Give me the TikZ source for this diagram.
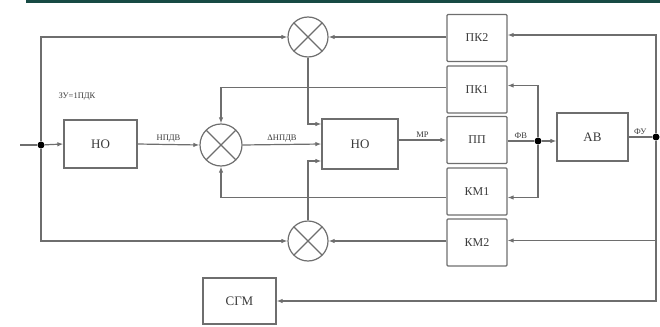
\documentclass[tikz,border=0pt]{standalone}
\usepackage{fontspec}
\setmainfont{Liberation Serif}
\usetikzlibrary{arrows.meta, positioning, calc}
\definecolor{linegray}{HTML}{6E6E6E}
\definecolor{textgray}{HTML}{3A3A3A}
\definecolor{barteal}{HTML}{174A44}

\begin{document}
\begin{tikzpicture}[x=1pt, y=-1pt, line width=1.2pt, draw=linegray,
    every node/.style={text=textgray},
    block/.style={draw=linegray, rectangle, minimum width=73pt, minimum height=48pt, font=\fontsize{13}{14}\selectfont},
    stackbox/.style={draw=linegray, rectangle, rounded corners=1pt, minimum width=60pt, minimum height=47pt, font=\fontsize{12}{13}\selectfont},
    summer/.style={draw=linegray, circle, minimum size=40pt, inner sep=0pt,
        path picture={\draw[linegray, line width=1.2pt] (path picture bounding box.north west) -- (path picture bounding box.south east)
            (path picture bounding box.north east) -- (path picture bounding box.south west);}},
    sig/.style={font=\fontsize{8.5}{9}\selectfont, inner sep=1.5pt},
    dot/.style={circle, fill=black, inner sep=0pt, minimum size=7pt},
    ->, >={Latex[length=6pt, width=4.5pt]}]

    \useasboundingbox (0,0) rectangle (660,326);
    \fill[barteal] (26,0) rectangle (660,3.5);

    \node[block] (ho1) at (100.5,144) {НО};
    \node[summer] (sum1) at (308,37) {};
    \node[summer, minimum size=42pt] (sum2) at (221,145) {};
    \node[summer] (sum3) at (308,241) {};
    \node[block, minimum width=76pt, minimum height=50pt] (ho2) at (360,144) {НО};

    \node[stackbox] (pk2) at (477,38) {ПК2};
    \node[stackbox] (pk1) at (477,89.5) {ПК1};
    \node[stackbox] (pp) at (477,140) {ПП};
    \node[stackbox] (km1) at (477,191.5) {КМ1};
    \node[stackbox] (km2) at (477,242.5) {КМ2};

    \node[block, minimum width=71pt] (av) at (592.5,137) {АВ};
    \node[block, minimum width=73pt, minimum height=46pt] (sgm) at (239.5,301) {СГМ};

    \node[dot] (d1) at (41,145) {};
    \node[dot] (d2) at (538,141) {};
    \node[dot] (d3) at (656,137) {};
    \coordinate (in) at (20,145);

    \node[sig] at (77,97) {ЗУ=1ПДК};

    \draw[-] (in) -- (d1);
    \draw (d1) -- (ho1.west);
    \draw (d1) |- (sum1.west);
    \draw (d1) |- (sum3.west);
    \draw (ho1.east) -- node[sig, above] {НПДВ} (sum2.west);
    \draw (sum2.east) -- node[sig, above] {ΔНПДВ} (ho2.west);
    \draw (sum1.south) |- ([yshift=20pt]ho2.west);
    \draw (sum3.north) |- ([yshift=-17pt]ho2.west);
    \draw (sum1.east -| pk2.west) -- (sum1.east);
    \draw ([yshift=2pt]pk1.west) -| (sum2.north);
    \draw ([yshift=-6pt]km1.west) -| (sum2.south);
    \draw (sum3.east -| km2.west) -- (sum3.east);
    \draw (ho2.east |- pp.west) -- node[sig, above] {МР} (pp.west);
    \draw[-] (pp.east |- d2) -- node[sig, above] {ФВ} (d2);
    \draw (d2) -- (av.west |- d2);
    \draw (d2) |- ([yshift=4pt]pk1.east);
    \draw (d2) |- ([yshift=-6pt]km1.east);
    \draw[-] (av.east) -- node[sig, above] {ФУ} (d3);
    \draw (d3) |- ([yshift=3pt]pk2.east);
    \draw (d3) |- ([yshift=2pt]km2.east);
    \draw (d3) |- (sgm.east);
\end{tikzpicture}
\end{document}
